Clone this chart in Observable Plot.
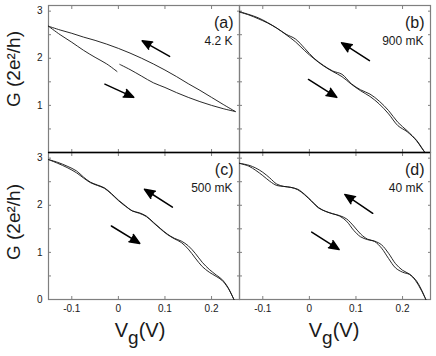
<!DOCTYPE html>
<html><head><meta charset="utf-8">
<script src="https://cdn.jsdelivr.net/npm/d3@7"></script>
<script src="https://cdn.jsdelivr.net/npm/@observablehq/plot@0.6"></script>
<style>
body{margin:0;background:#fff;}
#chart{position:relative;width:436px;height:356px;font-family:"Liberation Sans",Arial,sans-serif;color:#1a1a1a;}
#chart svg{position:absolute;}
.lab{position:absolute;white-space:nowrap;line-height:20px;}
.ylab{font-size:19px;transform:translate(-50%,-50%) rotate(-90deg);}
.xlab{font-size:20px;transform:translateX(-50%);}
.xlab span{font-size:19px;position:relative;top:7px;}
</style></head><body><div id="chart"></div>
<script>
// ---- axes ----
const xDomain = [-0.15, 0.26];
const yDomain = [0, 3.12];
const xTicks = [-0.1, 0, 0.1, 0.2];
const yTicks = [0, 0.5, 1, 1.5, 2, 2.5, 3];
const panelTags = ["(a)", "(b)", "(c)", "(d)"];
const panelTemps = ["4.2 K", "900 mK", "500 mK", "40 mK"];

// ---- panel (a) 4.2 K ----
const aUpVg = [-0.15,-0.125,-0.1,-0.075,-0.05,-0.025,0,0.025,0.05,0.075,0.1,0.125,0.15,0.175,0.2,0.225,0.251];
const aUpG  = [2.68,2.60,2.53,2.45,2.38,2.30,2.21,2.11,2.00,1.88,1.75,1.61,1.46,1.32,1.17,1.02,0.87];
const aDown1Vg = [-0.15,-0.125,-0.1,-0.075,-0.05,-0.025,-0.003];
const aDown1G  = [2.68,2.50,2.34,2.17,2.02,1.88,1.72];
const aDown2Vg = [0.003,0.025,0.05,0.075,0.1,0.125,0.15,0.175,0.2,0.225,0.251];
const aDown2G  = [1.87,1.76,1.62,1.48,1.38,1.27,1.17,1.08,1.00,0.93,0.87];

// ---- panel (b) 900 mK ----
const bVg    = [-0.15,-0.13,-0.11,-0.09,-0.07,-0.05,-0.03,-0.01,0.01,0.03,0.05,0.07,0.09,0.11,0.13,0.15,0.17,0.19,0.21,0.23,0.24,0.248];
const bDownG = [2.98,2.92,2.84,2.75,2.64,2.50,2.35,2.16,1.99,1.84,1.72,1.61,1.45,1.31,1.19,1.03,0.82,0.57,0.44,0.25,0.11,0];
const bUpG   = [2.99,2.93,2.86,2.76,2.64,2.51,2.41,2.21,2.00,1.85,1.73,1.66,1.46,1.33,1.24,1.09,0.89,0.64,0.46,0.26,0.12,0];

// ---- panel (c) 500 mK ----
const cVg    = [-0.15,-0.13,-0.11,-0.09,-0.075,-0.06,-0.045,-0.03,-0.015,0,0.015,0.03,0.045,0.06,0.075,0.09,0.105,0.12,0.135,0.15,0.165,0.18,0.195,0.21,0.222,0.235,0.248];
const cDownG = [2.97,2.89,2.80,2.69,2.58,2.48,2.42,2.36,2.24,2.10,1.98,1.88,1.83,1.76,1.63,1.50,1.38,1.29,1.21,1.07,0.88,0.70,0.58,0.49,0.41,0.25,0];
const cUpG   = [2.97,2.91,2.83,2.73,2.60,2.49,2.43,2.37,2.25,2.11,1.99,1.88,1.84,1.77,1.64,1.51,1.39,1.30,1.24,1.14,0.98,0.79,0.64,0.52,0.43,0.26,0];

// ---- panel (d) 40 mK ----
const dVg    = [-0.15,-0.13,-0.115,-0.1,-0.085,-0.07,-0.055,-0.04,-0.025,-0.01,0.005,0.02,0.035,0.05,0.065,0.08,0.095,0.11,0.125,0.14,0.155,0.17,0.185,0.2,0.215,0.228,0.24,0.25];
const dDownG = [2.89,2.83,2.74,2.63,2.51,2.42,2.40,2.38,2.33,2.22,2.08,1.94,1.87,1.82,1.77,1.66,1.47,1.33,1.27,1.23,1.09,0.87,0.67,0.58,0.53,0.40,0.20,0];
const dUpG   = [2.89,2.85,2.79,2.70,2.58,2.45,2.40,2.38,2.34,2.23,2.09,1.95,1.87,1.82,1.78,1.71,1.56,1.39,1.28,1.24,1.16,0.98,0.76,0.62,0.54,0.42,0.22,0];

// ---- sweep-direction arrows (tail -> head), [up arrow, down arrow] ----
const arrowTailVg = [[0.110,-0.029],[0.129,-0.002],[0.116,-0.015],[0.136,0.005]];
const arrowTailG  = [[2.04,1.45],[1.95,1.55],[1.96,1.56],[1.83,1.43]];
const arrowHeadVg = [[0.051,0.033],[0.069,0.059],[0.056,0.046],[0.076,0.064]];
const arrowHeadG  = [[2.37,1.17],[2.33,1.17],[2.34,1.19],[2.23,1.06]];

const chart = document.getElementById("chart");
const FONT = "Liberation Sans, Arial, sans-serif";
const GRAY = "#7f7f7f";

function rowsOf(list) {
  const rows = [];
  list.forEach(s => s.vg.forEach((v, i) => rows.push({vg: v, g: s.g[i], key: s.key})));
  return rows;
}
const fmtX = d => d === 0 ? "0" : (d < 0 ? "-" : "") + Math.abs(d).toFixed(1);

function makePanel(k, series, geo) {
  const arrows = arrowTailVg[k].map((_, i) => ({x1: arrowTailVg[k][i], y1: arrowTailG[k][i], x2: arrowHeadVg[k][i], y2: arrowHeadG[k][i]}));
  const leftCol = k % 2 === 0, topRow = k < 2;
  const marks = [
    Plot.frame({stroke: GRAY, strokeWidth: 1.2}),
    Plot.axisY({anchor: "left", ticks: yTicks, tickSize: -3, tickPadding: 9, label: null, stroke: GRAY, fill: "#1a1a1a",
      tickFormat: leftCol ? (d => Number.isInteger(d) && !(topRow && d === 0) ? String(d) : "") : (() => "")}),
    Plot.axisY({anchor: "right", ticks: yTicks, tickSize: -3, label: null, stroke: GRAY, tickFormat: () => ""}),
    Plot.axisX({anchor: "bottom", ticks: xTicks, tickSize: -3, tickPadding: 8, label: null, stroke: GRAY, fill: "#1a1a1a",
      tickFormat: topRow ? (() => "") : fmtX}),
    Plot.axisX({anchor: "top", ticks: xTicks, tickSize: -3, label: null, stroke: GRAY, tickFormat: () => ""}),
    Plot.line(rowsOf(series), {x: "vg", y: "g", z: "key", stroke: "#111", strokeWidth: 0.9, curve: "catmull-rom"}),
    Plot.arrow(arrows, {x1: "x1", y1: "y1", x2: "x2", y2: "y2", stroke: "#000", fill: "#000", strokeWidth: 1.5, headLength: 11, headAngle: 45}),
    Plot.text([panelTags[k]], {text: d => d, frameAnchor: "top-right", textAnchor: "end", lineAnchor: "middle", dx: -6, dy: 17, fontSize: 16, fill: "#1a1a1a"}),
    Plot.text([panelTemps[k]], {text: d => d, frameAnchor: "top-right", textAnchor: "end", lineAnchor: "middle", dx: -7, dy: 36, fontSize: 12, fill: "#1a1a1a"})
  ];
  // black separator between the two rows of panels (top edge of lower panels)
  if (!topRow) marks.push(Plot.ruleY([yDomain[1]], {stroke: "#000", strokeWidth: 1.5}));
  const svg = Plot.plot({
    width: geo.w, height: geo.h,
    marginLeft: geo.ml, marginRight: geo.mr, marginTop: geo.mt, marginBottom: geo.mb,
    style: {background: "transparent", overflow: "visible", fontFamily: FONT, fontSize: "10px", color: "#1a1a1a"},
    x: {domain: xDomain},
    y: {domain: yDomain},
    marks
  });
  svg.style.position = "absolute";
  svg.style.left = geo.left + "px";
  svg.style.top = geo.top + "px";
  chart.appendChild(svg);
}

const L = {left: 0, w: 244, ml: 48, mr: 5};
const R = {left: 234, w: 202, ml: 5, mr: 6};
const T = {top: 0, h: 157, mt: 5, mb: 5};
const B = {top: 147, h: 209, mt: 5, mb: 57};

makePanel(0, [{key: "up", vg: aUpVg, g: aUpG}, {key: "down1", vg: aDown1Vg, g: aDown1G}, {key: "down2", vg: aDown2Vg, g: aDown2G}], {...L, ...T});
makePanel(1, [{key: "up", vg: bVg, g: bUpG}, {key: "down", vg: bVg, g: bDownG}], {...R, ...T});
makePanel(2, [{key: "up", vg: cVg, g: cUpG}, {key: "down", vg: cVg, g: cDownG}], {...L, ...B});
makePanel(3, [{key: "up", vg: dVg, g: dUpG}, {key: "down", vg: dVg, g: dDownG}], {...R, ...B});

// axis titles
function addLabel(cls, html, x, y) {
  const d = document.createElement("div");
  d.className = "lab " + cls;
  d.innerHTML = html;
  d.style.left = x + "px";
  d.style.top = y + "px";
  chart.appendChild(d);
}
addLabel("ylab", "G (2e²/h)", 14, 69);
addLabel("ylab", "G (2e²/h)", 14, 222);
addLabel("xlab", "V<span>g</span>(V)", 140, 320);
addLabel("xlab", "V<span>g</span>(V)", 334, 320);
</script></body></html>
